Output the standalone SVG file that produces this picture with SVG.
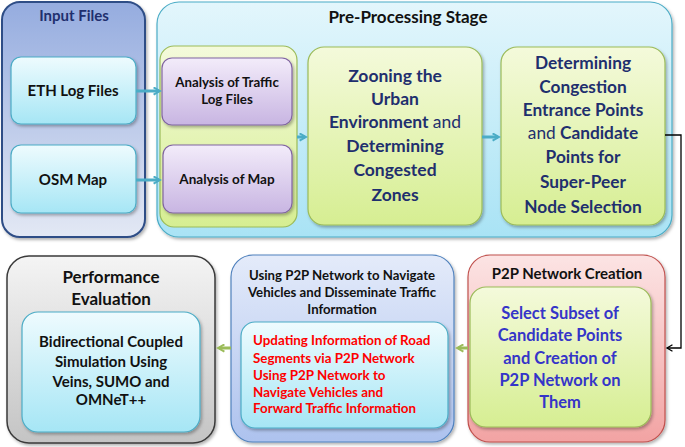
<svg xmlns="http://www.w3.org/2000/svg" width="685" height="447" viewBox="0 0 685 447">
<defs>
<linearGradient id="gBlue" x1="0" y1="0" x2="0" y2="1"><stop offset="0" stop-color="#95acdf"/><stop offset="1" stop-color="#e3e8f4"/></linearGradient>
<linearGradient id="gCyan" x1="0" y1="0" x2="0" y2="1"><stop offset="0" stop-color="#eefbfe"/><stop offset="1" stop-color="#a6e6f5"/></linearGradient>
<linearGradient id="gSky" x1="0" y1="0" x2="0" y2="1"><stop offset="0" stop-color="#e3f6fc"/><stop offset="1" stop-color="#a9e3f5"/></linearGradient>
<linearGradient id="gLime" x1="0" y1="0" x2="0" y2="1"><stop offset="0" stop-color="#f4fadb"/><stop offset="1" stop-color="#d6ee92"/></linearGradient>
<linearGradient id="gPurple" x1="0" y1="0" x2="0" y2="1"><stop offset="0" stop-color="#f3ecfa"/><stop offset="1" stop-color="#c8b5e2"/></linearGradient>
<linearGradient id="gGray" x1="0" y1="0" x2="0" y2="1"><stop offset="0" stop-color="#f4f4f4"/><stop offset="1" stop-color="#c4c4c4"/></linearGradient>
<linearGradient id="gPeri" x1="0" y1="0" x2="0" y2="1"><stop offset="0" stop-color="#e4ebfa"/><stop offset="1" stop-color="#adc2ee"/></linearGradient>
<linearGradient id="gPink" x1="0" y1="0" x2="0" y2="1"><stop offset="0" stop-color="#fce4e4"/><stop offset="1" stop-color="#f2a3a3"/></linearGradient>
<filter id="sh" x="-10%" y="-10%" width="130%" height="130%"><feDropShadow dx="1.5" dy="2" stdDeviation="1.5" flood-color="#000" flood-opacity="0.3"/></filter>
<marker id="aTeal" viewBox="0 0 10 10" refX="7" refY="5" markerWidth="3" markerHeight="3" orient="auto"><path d="M1,1 L8,5 L1,9" fill="none" stroke="#4bacc6" stroke-width="2.2"/></marker>
<marker id="aGreen" viewBox="0 0 10 10" refX="7" refY="5" markerWidth="3" markerHeight="3" orient="auto"><path d="M1,1 L8,5 L1,9" fill="none" stroke="#9bbb59" stroke-width="2.2"/></marker>
<marker id="aBlack" viewBox="0 0 10 10" refX="8" refY="5" markerWidth="7" markerHeight="7" orient="auto"><path d="M2,1.5 L8,5 L2,8.5" fill="none" stroke="#000" stroke-width="1.4"/></marker>
</defs>
<style>
text{font-family:Lato,"Liberation Sans",sans-serif;font-weight:bold;text-anchor:middle}
text.l{text-anchor:start}
.t{fill:#1f2f6e}
.k{fill:#111}
.n{font-weight:normal}
</style>

<g id="input-files">
<rect x="2" y="2" width="143" height="235" rx="18" fill="url(#gBlue)" stroke="#2e4d86" stroke-width="2" filter="url(#sh)"/>
<text x="74" y="21" class="t" font-size="15">Input Files</text>
</g>
<g id="eth-log">
<rect x="11" y="57" width="125" height="67" rx="10" fill="url(#gCyan)" stroke="#4bacc6" stroke-width="1.2" filter="url(#sh)"/>
<text x="73" y="96" class="k" font-size="15">ETH Log Files</text>
</g>
<g id="osm-map">
<rect x="11" y="145" width="125" height="68" rx="10" fill="url(#gCyan)" stroke="#4bacc6" stroke-width="1.2" filter="url(#sh)"/>
<text x="73" y="185" class="k" font-size="15">OSM Map</text>
</g>

<g id="pre-processing">
<rect x="157" y="2" width="515" height="235" rx="22" fill="url(#gSky)" stroke="#4bacc6" stroke-width="1.2" filter="url(#sh)"/>
<text x="408" y="23" class="k" font-size="17">Pre-Processing Stage</text>
</g>
<g id="analysis-group">
<rect x="160" y="46" width="137" height="181" rx="14" fill="url(#gLime)" stroke="#9bbb59" stroke-width="1.2"/>
</g>
<g id="analysis-traffic">
<rect x="162" y="58" width="130" height="67" rx="10" fill="url(#gPurple)" stroke="#8064a2" stroke-width="1.2" filter="url(#sh)"/>
<text x="227" y="87" class="k" font-size="13.3">Analysis of Traffic</text>
<text x="227" y="104" class="k" font-size="13.3">Log Files</text>
</g>
<g id="analysis-map">
<rect x="163" y="145" width="129" height="68" rx="10" fill="url(#gPurple)" stroke="#8064a2" stroke-width="1.2" filter="url(#sh)"/>
<text x="227" y="184" class="k" font-size="13.5">Analysis of Map</text>
</g>
<g id="zooning">
<rect x="308" y="47" width="174" height="178" rx="16" fill="url(#gLime)" stroke="#9bbb59" stroke-width="1.2" filter="url(#sh)"/>
<g class="t" font-size="17.5">
<text x="395" y="82">Zooning the</text>
<text x="395" y="105">Urban</text>
<text x="395" y="128">Environment <tspan class="n">and</tspan></text>
<text x="395" y="152">Determining</text>
<text x="395" y="176">Congested</text>
<text x="395" y="201">Zones</text>
</g>
</g>
<g id="congestion-points">
<rect x="501" y="47" width="164" height="178" rx="16" fill="url(#gLime)" stroke="#9bbb59" stroke-width="1.2" filter="url(#sh)"/>
<g class="t" font-size="17.3">
<text x="583" y="69">Determining</text>
<text x="583" y="93">Congestion</text>
<text x="583" y="116">Entrance Points</text>
<text x="583" y="139"><tspan class="n">and</tspan> Candidate</text>
<text x="583" y="163">Points for</text>
<text x="583" y="188">Super-Peer</text>
<text x="583" y="213">Node Selection</text>
</g>
</g>

<g id="performance">
<rect x="7" y="256" width="208" height="187" rx="22" fill="url(#gGray)" stroke="#3a3a3a" stroke-width="1.5" filter="url(#sh)"/>
<text x="111" y="283" class="k" font-size="17">Performance</text>
<text x="111" y="305" class="k" font-size="17">Evaluation</text>
</g>
<g id="simulation">
<rect x="22" y="312" width="178" height="120" rx="16" fill="url(#gCyan)" stroke="#4bacc6" stroke-width="1.2" filter="url(#sh)"/>
<g class="k" font-size="15">
<text x="111" y="347">Bidirectional Coupled</text>
<text x="111" y="367">Simulation Using</text>
<text x="111" y="387">Veins, SUMO and</text>
<text x="111" y="405">OMNeT++</text>
</g>
</g>

<g id="using-p2p">
<rect x="231" y="255" width="223" height="187" rx="22" fill="url(#gPeri)" stroke="#4f81bd" stroke-width="1.2" filter="url(#sh)"/>
<g class="k" font-size="13.2">
<text x="342" y="280">Using P2P Network to Navigate</text>
<text x="342" y="297">Vehicles and Disseminate Traffic</text>
<text x="342" y="314">Information</text>
</g>
</g>
<g id="updating">
<rect x="241" y="322" width="207" height="106" rx="14" fill="url(#gCyan)" stroke="#4bacc6" stroke-width="1.2" filter="url(#sh)"/>
<g fill="#ff0000" font-size="13.4">
<text class="l" x="253" y="345">Updating Information of Road</text>
<text class="l" x="253" y="363">Segments via P2P Network</text>
<text class="l" x="253" y="380">Using P2P Network to</text>
<text class="l" x="253" y="397">Navigate Vehicles and</text>
<text class="l" x="253" y="413">Forward Traffic Information</text>
</g>
</g>

<g id="p2p-creation">
<rect x="468" y="255" width="197" height="187" rx="22" fill="url(#gPink)" stroke="#c0504d" stroke-width="1.2" filter="url(#sh)"/>
<text x="567" y="279" class="k" font-size="15">P2P Network Creation</text>
</g>
<g id="select-subset">
<rect x="470" y="287" width="181" height="140" rx="16" fill="url(#gLime)" stroke="#9bbb59" stroke-width="1.2" filter="url(#sh)"/>
<g fill="#3535c8" font-size="16.5">
<text x="560" y="319">Select Subset of</text>
<text x="560" y="341">Candidate Points</text>
<text x="560" y="364">and Creation of</text>
<text x="560" y="386">P2P Network on</text>
<text x="560" y="408">Them</text>
</g>
</g>

<g id="connectors" fill="none">
<path d="M136,91 H159" stroke="#4bacc6" stroke-width="3" marker-end="url(#aTeal)"/>
<path d="M136,180 H159" stroke="#4bacc6" stroke-width="3" marker-end="url(#aTeal)"/>
<path d="M297,137 H305" stroke="#4bacc6" stroke-width="3" marker-end="url(#aTeal)"/>
<path d="M482,137 H498" stroke="#4bacc6" stroke-width="3" marker-end="url(#aTeal)"/>
<path d="M665,135 H681 V348 H667" stroke="#000" stroke-width="1.3" marker-end="url(#aBlack)"/>
<path d="M468,348 H458" stroke="#9bbb59" stroke-width="3" marker-end="url(#aGreen)"/>
<path d="M231,348 H219" stroke="#9bbb59" stroke-width="3" marker-end="url(#aGreen)"/>
</g>
</svg>
